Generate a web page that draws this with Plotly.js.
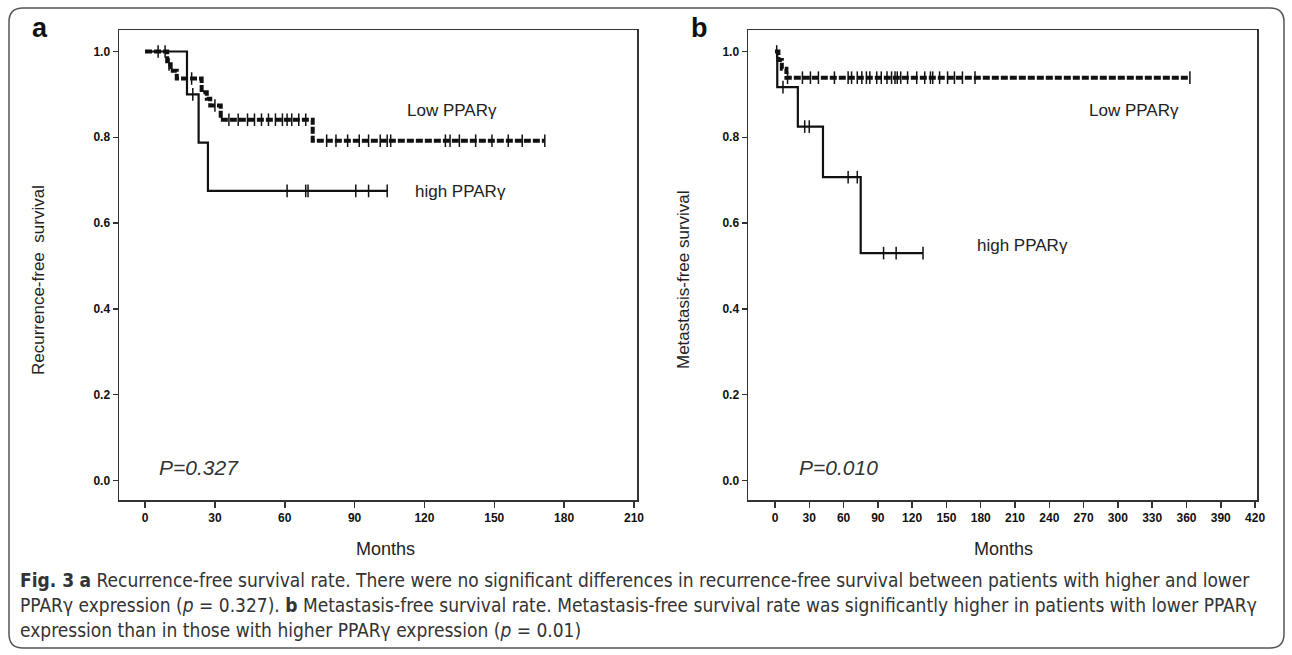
<!DOCTYPE html>
<html><head><meta charset="utf-8">
<script src="https://cdn.plot.ly/plotly-3.0.1.min.js"></script>
<style>html,body{margin:0;padding:0;background:#fff}</style>
</head><body><div id="chart" style="width:1292px;height:655px"></div>
<script>
const W = 1292, H = 655;

// ---- Panel a: recurrence-free survival ----
const rfsHighT = [0, 18, 23, 27, 104];
const rfsHighS = [1, 0.9, 0.7875, 0.675, 0.675];
const rfsHighCens = [20.5, 61, 69, 70, 90.5, 96, 104];
const rfsLowT = [0, 9.5, 11, 13.6, 24.3, 26.5, 28, 32.5, 72, 171.7];
const rfsLowS = [1, 0.97, 0.955, 0.937, 0.905, 0.89, 0.874, 0.841, 0.792, 0.792];
const rfsLowCens = [5.6, 8.6, 10.3, 20, 30, 36, 40, 44, 47, 50, 53, 56, 59, 61, 63, 66, 69,
  78, 82, 87, 92, 96, 101, 104, 105.5, 129, 131, 135, 142, 149, 156, 162, 171.7];

// ---- Panel b: metastasis-free survival ----
const mfsHighT = [0, 2, 20, 42, 75, 129.5];
const mfsHighS = [1, 0.917, 0.825, 0.707, 0.53, 0.53];
const mfsHighCens = [7, 26, 30, 64, 72, 95, 106, 129.5];
const mfsLowT = [0, 3, 6, 10, 363];
const mfsLowS = [1, 0.98, 0.96, 0.939, 0.939];
const mfsLowCens = [1.5, 11, 24, 31, 38, 52, 64, 67, 72, 76, 80, 83, 89, 93, 98, 102, 105, 107, 110,
  116, 124, 131, 136, 138, 144, 151, 157, 164, 175, 363];

const yTicks = [0, 0.2, 0.4, 0.6, 0.8, 1.0];
const xTicksA = [0, 30, 60, 90, 120, 150, 180, 210];
const xTicksB = [0, 30, 60, 90, 120, 150, 180, 210, 240, 270, 300, 330, 360, 390, 420];

function stepAt(T, S, t) {
  let v = S[0];
  for (let i = 0; i < T.length; i++) { if (T[i] <= t) v = S[i]; }
  return v;
}

const INK = '#111';
function curve(T, S, xa, ya, dashed) {
  return {x: T, y: S, xaxis: xa, yaxis: ya, mode: 'lines', type: 'scatter',
    line: {shape: 'hv', color: INK, width: dashed ? 4 : 2.2, dash: dashed ? '7px,2px' : 'solid'},
    hoverinfo: 'skip', showlegend: false};
}
function cens(C, T, S, xa, ya) {
  return {x: C, y: C.map(t => stepAt(T, S, t)), xaxis: xa, yaxis: ya, mode: 'markers', type: 'scatter',
    marker: {symbol: 'line-ns', size: 9, line: {width: 1.5, color: INK}},
    hoverinfo: 'skip', showlegend: false};
}

const data = [
  curve(rfsLowT, rfsLowS, 'x', 'y', true),
  cens(rfsLowCens, rfsLowT, rfsLowS, 'x', 'y'),
  curve(rfsHighT, rfsHighS, 'x', 'y', false),
  cens(rfsHighCens, rfsHighT, rfsHighS, 'x', 'y'),
  curve(mfsLowT, mfsLowS, 'x2', 'y2', true),
  cens(mfsLowCens, mfsLowT, mfsLowS, 'x2', 'y2'),
  curve(mfsHighT, mfsHighS, 'x2', 'y2', false),
  cens(mfsHighCens, mfsHighT, mfsHighS, 'x2', 'y2')
];

const tickFont = {family: 'Liberation Sans, Arial, sans-serif', size: 12, weight: 'bold', color: '#111'};
const axBase = {showline: true, mirror: true, linecolor: '#333', linewidth: 1.5, showgrid: false,
  zeroline: false, ticks: 'outside', tickwidth: 1.5, tickcolor: '#333', tickfont: tickFont, fixedrange: true};
const yDom = [1 - 500 / H, 1 - 30 / H];

const px = x => x / W, py = y => 1 - y / H;
const ARIAL = 'Liberation Sans, Arial, sans-serif';
function ann(text, x, y, opts) {
  return Object.assign({text: text, x: px(x), y: py(y), xref: 'paper', yref: 'paper', showarrow: false,
    xanchor: 'center', yanchor: 'middle', font: {family: ARIAL, size: 17, color: '#222'}}, opts || {});
}

const capFont = {family: 'Liberation Sans Narrow, DejaVu Sans Condensed, Arial Narrow, sans-serif', size: 19, color: '#333'};
const annotations = [
  ann('<b>a</b>', 40, 28, {font: {family: ARIAL, size: 27, color: '#111'}}),
  ann('<b>b</b>', 699, 28, {font: {family: ARIAL, size: 27, color: '#111'}}),
  ann('Recurrence-free  survival', 38, 280, {textangle: -90}),
  ann('Metastasis-free survival', 683, 280, {textangle: -90}),
  ann('Months', 385, 549, {font: {family: ARIAL, size: 18, color: '#222'}}),
  ann('Months', 1003, 549, {font: {family: ARIAL, size: 18, color: '#222'}}),
  ann('Low PPARγ', 405, 110, {xanchor: 'left'}),
  ann('high PPARγ', 413, 191, {xanchor: 'left'}),
  ann('Low PPARγ', 1087, 110, {xanchor: 'left'}),
  ann('high PPARγ', 975, 245, {xanchor: 'left'}),
  ann('<i>P=0.327</i>', 157, 468, {xanchor: 'left', font: {family: ARIAL, size: 21, color: '#333'}}),
  ann('<i>P=0.010</i>', 797, 468, {xanchor: 'left', font: {family: ARIAL, size: 21, color: '#333'}}),
  ann('<b>Fig. 3</b> <b>a</b> Recurrence-free survival rate. There were no significant differences in recurrence-free survival between patients with higher and lower', 18, 580, {xanchor: 'left', font: capFont}),
  ann('PPARγ expression (<i>p</i> = 0.327). <b>b</b> Metastasis-free survival rate. Metastasis-free survival rate was significantly higher in patients with lower PPARγ', 18, 605, {xanchor: 'left', font: capFont}),
  ann('expression than in those with higher PPARγ expression (<i>p</i> = 0.01)', 18, 630, {xanchor: 'left', font: capFont})
];

// rounded outer border
const L = px(9), R = px(1284), T = py(8), B = py(648);
const rx = 14 / W, ry = 14 / H;
const borderPath = `M ${L} ${B + ry} L ${L} ${T - ry} Q ${L} ${T} ${L + rx} ${T} L ${R - rx} ${T} Q ${R} ${T} ${R} ${T - ry} ` +
  `L ${R} ${B + ry} Q ${R} ${B} ${R - rx} ${B} L ${L + rx} ${B} Q ${L} ${B} ${L} ${B + ry} Z`;

const layout = {
  width: W, height: H, margin: {l: 0, r: 0, t: 0, b: 0},
  paper_bgcolor: '#fff', plot_bgcolor: '#fff', showlegend: false,
  xaxis: Object.assign({}, axBase, {domain: [119 / W, 637 / W], range: [-11.2, 211.3], tickvals: xTicksA, ticklen: 6, anchor: 'y'}),
  yaxis: Object.assign({}, axBase, {domain: yDom, range: [-0.0455, 1.0501], tickvals: yTicks, tickformat: '.1f', ticklen: 5, anchor: 'x'}),
  xaxis2: Object.assign({}, axBase, {domain: [748 / W, 1257 / W], range: [-23.6, 421.7], tickvals: xTicksB, ticklen: 6, anchor: 'y2'}),
  yaxis2: Object.assign({}, axBase, {domain: yDom, range: [-0.0455, 1.0501], tickvals: yTicks, tickformat: '.1f', ticklen: 5, anchor: 'x2'}),
  annotations: annotations,
  shapes: [{type: 'path', xref: 'paper', yref: 'paper', path: borderPath, line: {color: '#555', width: 1.5}, fillcolor: 'rgba(0,0,0,0)'}]
};

Plotly.newPlot('chart', data, layout, {staticPlot: true, displayModeBar: false});
</script></body></html>
